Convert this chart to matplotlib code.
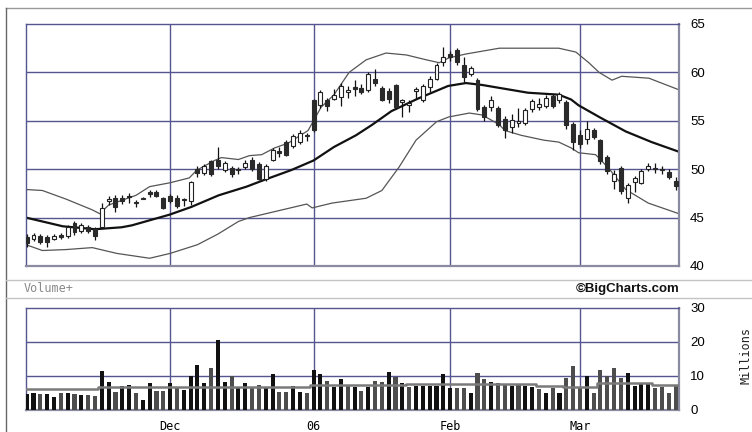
import matplotlib.pyplot as plt
from matplotlib.lines import Line2D
from matplotlib.patches import Rectangle

W, H = 752, 432

# daily OHLC, Nov 1 2005 .. Mar 21 2006 (index = trading day)
opens = [43.0, 42.8, 43.1, 43.0, 42.8, 43.2, 43.1, 44.4, 43.6, 44.0,
         43.8, 44.0, 46.7, 47.0, 47.0, 47.1, 46.6, 47.0, 47.6, 47.6,
         47.0, 47.2, 47.0, 46.8, 46.7, 50.0, 49.6, 50.8, 51.0, 49.9,
         50.1, 50.0, 50.2, 51.0, 50.5, 49.0, 51.0, 51.8, 52.8, 52.4,
         52.8, 53.5, 57.2, 56.6, 57.2, 57.3, 57.5, 58.0, 58.4, 58.4,
         58.2, 59.3, 58.4, 58.1, 58.7, 56.9, 56.6, 58.1, 57.2, 58.5,
         59.3, 61.1, 61.9, 62.3, 60.8, 59.8, 59.2, 56.4, 56.4, 56.3,
         55.2, 54.4, 54.8, 54.8, 56.2, 56.4, 56.5, 57.6, 57.1, 56.9,
         54.7, 53.5, 53.1, 54.0, 53.0, 51.3, 48.8, 50.1, 47.0, 48.7,
         48.6, 50.0, 50.1, 50.0, 49.7, 48.8]
highs = [43.3, 43.4, 43.3, 43.2, 43.3, 43.4, 44.2, 44.7, 44.4, 44.2,
         44.0, 46.5, 47.2, 47.3, 47.3, 47.5, 46.8, 47.1, 47.9, 47.8,
         47.1, 47.4, 47.3, 47.0, 48.8, 50.3, 50.5, 51.0, 52.3, 50.8,
         50.3, 50.2, 50.9, 51.3, 50.7, 50.5, 52.2, 52.3, 53.0, 53.6,
         54.0, 53.7, 57.3, 58.2, 57.4, 58.3, 58.9, 58.6, 59.2, 58.8,
         60.0, 60.3, 58.6, 58.4, 58.8, 57.3, 57.1, 58.5, 58.8, 59.6,
         61.0, 62.6, 62.2, 62.5, 61.6, 60.7, 59.4, 56.6, 57.6, 56.5,
         55.5, 55.7, 56.3, 56.3, 57.3, 57.4, 57.7, 57.8, 58.0, 57.1,
         54.9, 54.0, 55.0, 54.3, 53.1, 51.5, 49.9, 50.3, 48.6, 49.3,
         50.0, 50.6, 50.6, 50.3, 50.0, 49.2]
lows = [42.0, 42.6, 42.3, 42.0, 42.7, 42.8, 42.9, 43.2, 43.4, 43.4,
        42.7, 43.9, 46.3, 45.6, 46.4, 46.5, 46.1, 46.9, 47.1, 47.1,
        45.9, 46.5, 46.0, 46.2, 46.3, 49.2, 49.4, 49.3, 50.0, 49.7,
        49.2, 49.5, 50.0, 49.8, 48.9, 48.8, 50.8, 51.3, 51.4, 52.2,
        52.6, 52.9, 53.8, 56.3, 56.0, 57.1, 56.5, 57.4, 57.6, 57.8,
        58.0, 58.6, 57.0, 56.8, 56.2, 55.4, 55.9, 57.4, 56.9, 58.0,
        59.2, 60.7, 61.2, 60.8, 59.0, 59.6, 56.0, 55.0, 56.0, 54.4,
        53.2, 53.7, 54.4, 54.6, 55.9, 56.1, 56.3, 56.3, 56.8, 54.2,
        52.0, 52.2, 52.6, 53.1, 50.5, 49.5, 48.0, 47.4, 46.5, 47.6,
        48.5, 49.8, 49.6, 49.5, 49.0, 47.9]
closes = [42.4, 43.2, 42.5, 42.5, 43.1, 43.0, 44.0, 43.5, 44.2, 43.6,
          43.1, 46.0, 46.9, 46.1, 46.7, 47.2, 46.5, 46.9, 47.4, 47.2,
          46.0, 46.7, 46.2, 46.9, 48.7, 49.6, 50.3, 49.5, 50.3, 50.6,
          49.5, 49.9, 50.6, 50.0, 49.0, 50.3, 52.0, 51.7, 51.5, 53.4,
          53.7, 53.4, 54.0, 58.0, 56.5, 57.7, 58.6, 58.2, 58.3, 58.0,
          59.8, 58.9, 57.2, 57.3, 56.4, 57.1, 56.8, 58.3, 58.6, 59.3,
          60.8, 61.6, 61.6, 61.1, 59.5, 60.5, 56.2, 55.4, 57.1, 54.6,
          54.0, 55.1, 55.0, 56.1, 57.0, 56.7, 57.4, 56.5, 57.8, 54.6,
          52.8, 52.6, 54.2, 53.3, 50.8, 49.8, 49.5, 47.7, 48.4, 49.1,
          49.8, 50.3, 50.0, 49.9, 49.2, 48.3]
# volume, millions
volume = [4.8, 4.9, 4.7, 4.7, 3.9, 5.1, 4.9, 4.7, 4.4, 4.4,
          4.1, 11.5, 8.3, 5.4, 7.2, 7.5, 4.9, 2.9, 7.8, 5.7,
          5.7, 7.8, 6.7, 5.9, 10.0, 13.2, 7.8, 12.5, 20.6, 8.3,
          10.0, 6.4, 7.8, 6.4, 7.4, 6.4, 10.6, 5.4, 5.4, 7.2,
          5.2, 4.9, 11.8, 10.6, 8.6, 6.7, 9.0, 7.5, 6.7, 5.7,
          6.7, 8.6, 8.2, 11.1, 9.8, 7.8, 6.8, 7.1, 7.1, 7.1,
          7.1, 10.6, 6.4, 6.4, 6.4, 5.1, 11.0, 9.0, 8.3, 7.8,
          7.6, 7.0, 7.6, 7.0, 6.7, 6.1, 5.1, 6.4, 5.1, 9.3,
          12.9, 6.8, 10.0, 5.1, 11.8, 10.0, 12.4, 9.3, 11.0, 7.0,
          7.6, 7.6, 6.4, 6.7, 5.1, 7.3]

# bollinger bands
mid_days = [-0.1, 5.3, 10, 13.9, 15.4, 20.9, 24.1, 28.1, 32.2, 34.8, 38.7, 42,
            45, 48.2, 50.6, 53.4, 57.3, 61.7, 64.3, 66.7, 69.2, 73.4, 77.9,
            79.7, 80.8, 83.8, 87.7, 91.5, 95.5]
mid_vals = [45.0, 44.1, 43.8, 44.0, 44.2, 45.3, 46.1, 47.3, 48.2, 48.9, 49.9, 50.9,
            52.3, 53.5, 54.6, 56.0, 57.3, 58.6, 58.9, 58.7, 58.4, 57.9, 57.7,
            57.2, 56.6, 55.4, 53.9, 52.8, 51.8]
upper_days = [-0.1, 2.3, 5.8, 9.6, 10.7, 12, 14, 16, 18, 21, 23.8, 24.9, 27.5,
              28.5, 31, 32.6, 34.4, 36.3, 38.3, 41.2, 43.1, 45, 47.2, 49.7,
              52.6, 55.6, 58.5, 60.4, 61.8, 64.3, 69.2, 77.9, 80.4, 82.3,
              83.8, 85.7, 87.1, 91.1, 95.5]
upper_vals = [47.9, 47.8, 46.9, 45.8, 45.4, 46.3, 46.8, 47.3, 48.2, 48.6, 49.1,
              49.9, 50.9, 51.2, 51.0, 51.4, 51.5, 52.2, 52.7, 54.0, 56.4, 57.7,
              60.0, 61.3, 62.0, 61.8, 61.3, 61.0, 61.5, 61.9, 62.5, 62.5, 62.1,
              61.0, 60.0, 59.2, 59.6, 59.4, 58.2]
lower_days = [-0.1, 2.3, 5.8, 9.6, 13.2, 18, 21, 25, 28, 31, 32.6, 37.4, 41,
              41.8, 44.7, 49.7, 52, 54.5, 57, 60, 61.8, 64.8, 66.7, 69.2, 70,
              72.4, 75.7, 77.9, 79.7, 80.8, 83.3, 85.2, 87.7, 91, 95.5]
lower_vals = [42.2, 41.6, 41.7, 41.9, 41.3, 40.8, 41.3, 42.2, 43.3, 44.6, 45.0,
              45.8, 46.4, 46.0, 46.5, 47.0, 47.8, 50.2, 53.0, 54.9, 55.4, 55.8,
              55.6, 54.6, 54.0, 53.5, 53.0, 52.8, 52.2, 51.7, 51.5, 50.1, 47.9,
              46.5, 45.4]
# volume moving average
vma_days = [-0.5, 10.5, 10.5, 26.5, 26.5, 41.5, 41.5, 55.5, 55.5, 74.5, 74.5,
            78.5, 78.5, 83.5, 83.5, 91.5, 91.5, 95.5]
vma_vals = [6.3, 6.3, 6.7, 6.7, 6.9, 6.9, 7.3, 7.3, 7.6, 7.6, 7.1, 7.1, 6.9,
            6.9, 7.8, 7.8, 7.3, 7.3]

month_pos = [21, 42, 62, 81]
month_labels = ['Dec', '06', 'Feb', 'Mar']
price_ticks = [40, 45, 50, 55, 60, 65]
vol_ticks = [0, 10, 20, 30]

GRID = '#55558f'
EDGE = '#8a8aa0'
XMIN, XMAX = -0.1, 95.5

fig = plt.figure(figsize=(7.52, 4.32), dpi=100)


def px_axes(x0, y0, x1, y1):
    return fig.add_axes([x0 / W, 1 - y1 / H, (x1 - x0) / W, (y1 - y0) / H])


def fig_line(x0, y0, x1, y1, color, lw=1.0):
    fig.add_artist(Line2D([x0 / W, x1 / W], [1 - y0 / H, 1 - y1 / H],
                          transform=fig.transFigure, color=color, lw=lw))


def style_axes(ax):
    ax.set_xlim(XMIN, XMAX)
    for s in ('left', 'top'):
        ax.spines[s].set_color(GRID)
        ax.spines[s].set_linewidth(1.0)
    for s in ('right', 'bottom'):
        ax.spines[s].set_color(EDGE)
        ax.spines[s].set_linewidth(1.6)
    ax.yaxis.tick_right()
    ax.tick_params(axis='both', length=0)
    for p in month_pos:
        ax.axvline(p, color=GRID, lw=1.0, zorder=1)


# outer frame and separator strip
fig_line(6, 8, 752, 8, '#999999')
fig_line(6, 8, 6, 432, '#666666')
fig_line(6, 280, 752, 280, '#c4c4c4')
fig_line(6, 298, 752, 298, '#c4c4c4')

# price panel
ax = px_axes(26, 24, 679, 266)
style_axes(ax)
ax.set_ylim(40, 65)
ax.set_yticks(price_ticks)
ax.set_yticklabels([str(t) for t in price_ticks], fontsize=9.5, family='Liberation Sans')
ax.tick_params(axis='y', pad=8)
ax.set_xticks([])
for t in price_ticks[1:-1]:
    ax.axhline(t, color=GRID, lw=1.0, zorder=1)

ax.plot(upper_days, upper_vals, color='#555555', lw=0.9, zorder=2)
ax.plot(lower_days, lower_vals, color='#555555', lw=0.9, zorder=2)
ax.plot(mid_days, mid_vals, color='#111111', lw=1.6, zorder=2)

bw = 0.58
for i in range(len(opens)):
    ax.vlines(i, lows[i], highs[i], color='#111111', lw=0.9, zorder=3)
    lo = min(opens[i], closes[i])
    h = max(abs(closes[i] - opens[i]), 0.15)
    if closes[i] >= opens[i]:
        rect = Rectangle((i - bw / 2, lo), bw, h, facecolor='white',
                         edgecolor='#222222', lw=0.8, zorder=4)
    else:
        rect = Rectangle((i - bw / 2, lo), bw, h, facecolor='#2a2a2a',
                         edgecolor='#2a2a2a', lw=0.8, zorder=4)
    ax.add_patch(rect)

# volume panel
axv = px_axes(26, 308, 679, 410)
style_axes(axv)
axv.set_ylim(0, 30)
axv.set_yticks(vol_ticks)
axv.set_yticklabels([str(t) for t in vol_ticks], fontsize=9.5, family='Liberation Sans')
axv.tick_params(axis='y', pad=8)
for t in vol_ticks[1:-1]:
    axv.axhline(t, color=GRID, lw=1.0, zorder=1)

bar_colors = []
for i in range(len(volume)):
    up = i == 0 or closes[i] >= closes[i - 1]
    bar_colors.append('#111111' if up else '#4d4d4d')
axv.bar(range(len(volume)), volume, width=0.6, color=bar_colors, zorder=3)
axv.plot(vma_days, vma_vals, color='#7a7a7a', lw=1.8, zorder=4)

axv.set_xticks(month_pos)
axv.set_xticklabels(month_labels, fontsize=8.5, family='DejaVu Sans Mono')
axv.tick_params(axis='x', pad=7)

fig.text(24 / W, 1 - 289 / H, 'Volume+', color='#8a8a8a', fontsize=8.5,
         family='DejaVu Sans Mono', va='center', ha='left')
fig.text(679 / W, 1 - 289 / H, '\u00a9BigCharts.com', color='#111111', fontsize=9.5,
         fontweight='bold', family='Liberation Sans', va='center', ha='right')
fig.text(746 / W, 1 - 355 / H, 'Millions', rotation=90, fontsize=8.5,
         family='DejaVu Sans Mono', va='center', ha='center', color='#222222')

fig.savefig('out.png', dpi=100)
